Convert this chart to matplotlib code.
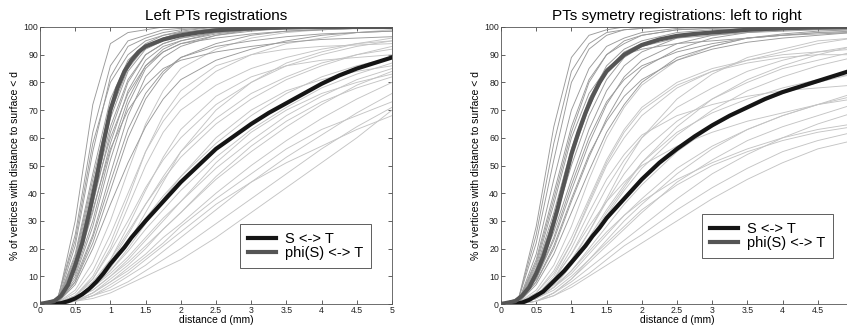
import numpy as np
import matplotlib.pyplot as plt

plt.rcParams['font.family'] = ['Liberation Sans', 'DejaVu Sans']

# distance grid (mm) for the individual subject curves
d = [0, 0.25, 0.5, 0.75, 1, 1.25, 1.5, 1.75, 2, 2.5, 3, 3.5, 4, 4.5, 5]
# finer grid for the two group means
dm = [0, 0.2, 0.3, 0.4, 0.5, 0.6, 0.7, 0.8, 0.9, 1, 1.1, 1.2, 1.3, 1.4, 1.5,
      1.75, 2, 2.25, 2.5, 2.75, 3, 3.25, 3.5, 3.75, 4, 4.25, 4.5, 4.75, 5]

# ---- Left PTs registrations ----
left_mean_st = [0, 0, 0.3, 1, 2, 3.5, 5.5, 8, 11, 14.5, 17.5, 20.5, 24, 27, 30,
                37, 44, 50, 56, 60.5, 65, 69, 72.5, 76, 79.5, 82.5, 85, 87, 89]
left_mean_phi = [0, 1, 3, 7, 14, 22, 33, 45, 58, 70, 78, 84, 88, 91, 93,
                 95.5, 97, 98, 98.8, 99.2, 99.5, 99.7, 99.8, 99.9, 100, 100, 100, 100, 100]

left_phi_runs = [
    [0, 1, 30, 72, 94, 98, 99, 100, 100, 100, 100, 100, 100, 100, 100],
    [0, 2, 25, 62, 86, 95, 97, 99, 99.5, 100, 100, 100, 100, 100, 100],
    [0, 1, 21, 55, 82, 93, 96, 98, 99, 100, 100, 100, 100, 100, 100],
    [0, 2, 23, 58, 80, 90, 95, 97, 98.5, 100, 100, 100, 100, 100, 100],
    [0, 1, 18, 47, 74, 88, 94, 97, 98, 99.5, 100, 100, 100, 100, 100],
    [0, 1, 17, 45, 71, 86, 93, 96, 98, 99.5, 100, 100, 100, 100, 100],
    [0, 1, 15, 41, 67, 84, 92, 95, 97, 99, 100, 100, 100, 100, 100],
    [0, 1, 14, 39, 64, 81, 90, 94, 96, 98, 99, 99.5, 100, 100, 100],
    [0, 1, 13, 36, 62, 80, 90, 94, 96, 98, 99, 99.5, 100, 100, 100],
    [0, 1, 12, 33, 58, 77, 88, 93, 95, 98, 99, 99.5, 100, 100, 100],
    [0, 1, 11, 30, 55, 74, 86, 92, 95, 97.5, 99, 99.5, 100, 100, 100],
    [0, 1, 10, 28, 52, 72, 85, 91, 94, 97, 99, 99.5, 100, 100, 100],
    [0, 0.5, 9, 25, 47, 68, 82, 89, 93, 97, 98.5, 99.5, 100, 100, 100],
    [0, 1, 14, 38, 60, 76, 86, 91, 94, 96, 97.5, 98.5, 99, 99.5, 100],
    [0, 1, 16, 43, 69, 85, 93, 96, 98, 99, 100, 100, 100, 100, 100],
    [0, 0.5, 8, 22, 41, 60, 74, 83, 89, 94, 97, 98.5, 99, 99.5, 100],
    [0, 0.5, 7, 20, 36, 51, 64, 74, 81, 88, 92, 95, 97, 98, 98.5],
    [0, 0.5, 8, 24, 44, 63, 76, 84, 89, 93, 95, 96.5, 97.5, 98, 98.5],
    [0, 1, 12, 34, 56, 70, 79, 85, 88, 91, 93, 94.5, 95.5, 96, 96.5],
]
left_st_runs = [
    [0, 0.5, 5, 15, 30, 48, 65, 77, 85, 92, 96, 98, 99, 99.5, 100],
    [0, 0.5, 4, 12, 25, 40, 55, 66, 74, 84, 90, 94, 96, 98, 99],
    [0, 0.3, 3, 9, 19, 30, 42, 52, 60, 72, 80, 86, 90, 93, 95],
    [0, 0.3, 3, 8, 16, 26, 36, 45, 53, 65, 74, 81, 86, 90, 93],
    [0, 0.2, 2, 7, 14, 22, 31, 39, 46, 58, 68, 76, 82, 86, 89],
    [0, 0.2, 2, 6, 12, 19, 27, 34, 41, 53, 63, 71, 78, 83, 87],
    [0, 0.2, 2, 6, 11, 17, 24, 31, 37, 49, 59, 68, 75, 81, 85],
    [0, 0.2, 2, 5, 10, 15, 21, 27, 33, 45, 55, 64, 72, 79, 84],
    [0, 0.1, 1, 4, 8, 13, 18, 24, 29, 40, 50, 59, 67, 74, 80],
    [0, 0.1, 1, 3, 6, 10, 14, 19, 24, 34, 44, 53, 61, 69, 76],
    [0, 0.1, 1, 3, 5, 8, 12, 16, 20, 29, 38, 47, 56, 64, 71],
    [0, 0.1, 1, 2, 4, 7, 10, 13, 16, 24, 33, 42, 51, 60, 70],
    [0, 0.2, 2, 6, 13, 22, 33, 44, 55, 70, 80, 87, 91, 94, 96],
    [0, 0.3, 3, 9, 20, 35, 50, 62, 70, 79, 85, 89, 92, 94, 95],
    [0, 0.2, 2, 7, 15, 25, 36, 46, 55, 67, 76, 82, 87, 90, 92],
    [0, 0.1, 1, 4, 9, 14, 20, 27, 33, 46, 57, 66, 73, 78, 82],
    [0, 0.2, 2, 6, 12, 20, 29, 38, 46, 60, 70, 77, 81, 84, 86],
    [0, 0.1, 1, 4, 8, 12, 17, 22, 28, 38, 47, 56, 63, 68, 73],
    [0, 0.2, 2, 7, 16, 28, 41, 53, 63, 75, 82, 86, 88, 89, 90],
    [0, 0.3, 3, 10, 22, 38, 55, 68, 77, 86, 90, 92, 93, 93.5, 94],
    [0, 0.2, 2, 5, 10, 16, 23, 30, 37, 51, 62, 70, 76, 80, 83],
    [0, 0.1, 1, 3, 7, 11, 16, 21, 26, 36, 44, 51, 57, 63, 68],
]

# ---- PTs symetry registrations: left to right ----
right_mean_st = [0, 0, 0.5, 1.5, 3, 4.5, 7, 9.5, 12, 15, 18, 21, 24.5, 27.5, 31,
                 38, 45, 51, 56, 60.5, 64.5, 68, 71, 74, 76.5, 78.5, 80.5, 82.5, 84.5]
right_mean_phi = [0, 1, 3, 6, 11, 17, 25, 34, 44, 54, 62, 69, 75, 80, 84,
                  90, 93.5, 95.5, 96.8, 97.5, 98, 98.5, 99, 99.3, 99.5, 99.7, 99.8, 99.9, 100]

right_phi_runs = [
    [0, 2, 28, 64, 89, 97, 99, 100, 100, 100, 100, 100, 100, 100, 100],
    [0, 2, 25, 58, 84, 94, 98, 99, 99.5, 100, 100, 100, 100, 100, 100],
    [0, 2, 22, 52, 80, 92, 97, 99, 99.5, 100, 100, 100, 100, 100, 100],
    [0, 1, 18, 45, 70, 85, 93, 96, 98, 99.5, 100, 100, 100, 100, 100],
    [0, 1, 16, 40, 64, 81, 90, 95, 97, 99, 99.5, 100, 100, 100, 100],
    [0, 1, 15, 38, 62, 80, 90, 94, 97, 99, 99.5, 100, 100, 100, 100],
    [0, 1, 13, 33, 56, 74, 86, 92, 95, 98, 99, 99.5, 100, 100, 100],
    [0, 1, 12, 31, 53, 71, 84, 91, 94, 97, 98.5, 99.5, 100, 100, 100],
    [0, 1, 11, 29, 50, 68, 81, 89, 93, 97, 98.5, 99.5, 100, 100, 100],
    [0, 1, 10, 26, 45, 63, 77, 86, 91, 96, 98, 99, 99.5, 100, 100],
    [0, 0.5, 9, 23, 41, 58, 72, 82, 88, 94, 97, 98.5, 99, 99.5, 100],
    [0, 0.5, 8, 20, 37, 53, 67, 78, 85, 92, 96, 98, 99, 99.5, 100],
    [0, 1, 12, 31, 54, 72, 84, 90, 93, 96, 97, 98, 98.5, 99, 99],
    [0, 0.5, 7, 18, 33, 48, 62, 72, 80, 89, 93, 96, 97.5, 98.5, 99],
    [0, 0.5, 9, 24, 43, 60, 73, 81, 86, 91, 94, 96, 97, 98, 98.5],
    [0, 0.5, 8, 21, 38, 54, 66, 75, 81, 88, 92, 94.5, 96, 97, 98],
    [0, 1, 14, 36, 60, 76, 85, 90, 92, 94, 95, 96, 97, 97.5, 98],
]
right_st_runs = [
    [0, 0.5, 5, 14, 28, 45, 60, 71, 79, 88, 93, 96, 97, 98, 98],
    [0, 0.4, 4, 11, 22, 36, 50, 60, 68, 78, 84, 88, 91, 94, 96],
    [0, 0.3, 3, 9, 18, 30, 42, 52, 60, 71, 78, 84, 88, 91, 93],
    [0, 0.3, 3, 8, 16, 26, 37, 47, 55, 66, 74, 80, 85, 88, 91],
    [0, 0.2, 2, 7, 14, 22, 32, 41, 49, 61, 70, 77, 82, 86, 89],
    [0, 0.3, 3, 9, 20, 33, 45, 54, 61, 68, 72, 75, 77, 78, 79],
    [0, 0.2, 2, 6, 12, 20, 28, 36, 43, 55, 64, 71, 76, 80, 83],
    [0, 0.2, 2, 6, 11, 18, 25, 32, 38, 49, 57, 63, 68, 72, 76],
    [0, 0.3, 3, 9, 18, 28, 37, 44, 50, 57, 62, 66, 69, 72, 74],
    [0, 0.1, 1, 4, 9, 15, 21, 27, 33, 44, 52, 59, 64, 68, 72],
    [0, 0.1, 1, 4, 8, 13, 18, 23, 28, 38, 47, 54, 60, 65, 69],
    [0, 0.2, 2, 6, 12, 19, 26, 32, 37, 45, 51, 56, 60, 63, 65],
    [0, 0.1, 1, 3, 7, 11, 16, 21, 25, 34, 42, 49, 55, 59, 62],
    [0, 0.1, 1, 3, 6, 10, 14, 18, 22, 30, 38, 45, 51, 56, 59],
    [0, 0.2, 2, 7, 15, 26, 38, 50, 60, 74, 83, 89, 92, 95, 96],
    [0, 0.2, 2, 6, 14, 23, 33, 42, 51, 64, 74, 81, 86, 90, 93],
    [0, 0.4, 4, 12, 24, 38, 52, 63, 71, 80, 85, 88, 90, 91, 92],
    [0, 0.2, 2, 7, 15, 24, 34, 43, 51, 62, 69, 74, 78, 81, 83],
    [0, 0.1, 1, 4, 9, 16, 23, 30, 36, 47, 56, 63, 68, 72, 75],
    [0, 0.2, 2, 5, 10, 16, 22, 28, 34, 43, 50, 55, 59, 62, 64],
    [0, 0.3, 3, 10, 22, 37, 51, 62, 70, 79, 84, 87, 89, 90, 90],
]


def draw_panel(ax, title, phi_runs, st_runs, mean_st, mean_phi, legend_anchor):
    # individual subjects
    for run in st_runs:
        ax.plot(d, run, color='#c4c4c4', lw=0.65)
    for run in phi_runs:
        ax.plot(d, run, color='#9a9a9a', lw=0.65)

    # group means
    ax.plot(dm, mean_st, color='#151515', lw=3, label='S <-> T')
    ax.plot(dm, mean_phi, color='#555555', lw=3, label='phi(S) <-> T')

    ax.set_xlim(0, 5)
    ax.set_ylim(0, 100)
    ax.set_xticks(np.arange(0, 5.01, 0.5))
    ax.set_xticklabels(['0', '0.5', '1', '1.5', '2', '2.5', '3', '3.5', '4', '4.5', '5'])
    ax.set_yticks(np.arange(0, 101, 10))
    ax.tick_params(direction='in', top=True, right=True, labelsize=6.3,
                   length=3, width=0.5, pad=1.5, colors='#222222')
    for s in ax.spines.values():
        s.set_linewidth(0.6)
        s.set_color('#555555')

    ax.set_title(title, fontsize=11, pad=5)
    ax.set_xlabel('distance d (mm)', fontsize=7.5, labelpad=0)
    ax.set_ylabel('% of vertices with distance to surface < d', fontsize=7.5, labelpad=2)

    leg = ax.legend(loc='lower right', bbox_to_anchor=legend_anchor, fontsize=10.5,
                    fancybox=False, framealpha=1, edgecolor='#444444',
                    handlelength=1.9, handletextpad=0.6, borderpad=0.55,
                    labelspacing=0.0, borderaxespad=0)
    leg.get_frame().set_linewidth(0.6)


fig = plt.figure(figsize=(8.47, 3.31), dpi=100)
ax1 = fig.add_axes([40 / 847, 27 / 331, 352 / 847, 277 / 331])
ax2 = fig.add_axes([501 / 847, 27 / 331, 352 / 847, 277 / 331])

draw_panel(ax1, 'Left PTs registrations', left_phi_runs, left_st_runs,
           left_mean_st, left_mean_phi, (0.94, 0.13))
draw_panel(ax2, 'PTs symetry registrations: left to right', right_phi_runs,
           right_st_runs, right_mean_st, right_mean_phi, (0.943, 0.166))

# the right panel runs past the page edge, its last tick label is not shown
ax2.get_xticklabels()[-1].set_visible(False)

fig.savefig('out.png', dpi=100)
